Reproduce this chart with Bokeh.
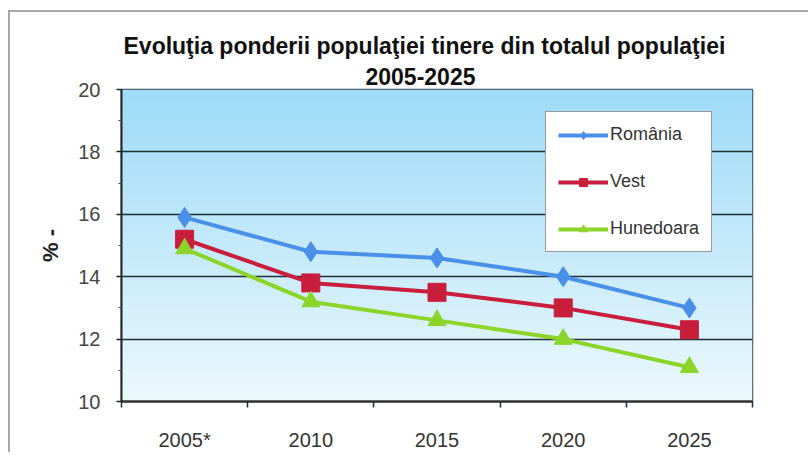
import numpy as np
from bokeh.plotting import figure
from bokeh.models import FixedTicker, Legend, LegendItem, Range1d, Title
from bokeh.embed import file_html
from bokeh.resources import INLINE

# ---- data ----
years = ["2005*", "2010", "2015", "2020", "2025"]
romania = [15.9, 14.8, 14.6, 14.0, 13.0]
vest = [15.2, 13.8, 13.5, 13.0, 12.3]
hunedoara = [14.9, 13.2, 12.6, 12.0, 11.1]
y_major = [10, 12, 14, 16, 18, 20]
y_minor = [11, 13, 15, 17, 19]
title_line1 = "Evoluţia ponderii populaţiei tinere din totalul populaţiei"
title_line2 = "2005-2025"
y_label = "% -"

FONT = "Liberation Sans"
C_RO = "#4a8fe8"
C_VE = "#c81e3c"
C_HU = "#8cd42a"
DARK = "#1f2d36"

x = list(range(1, len(years) + 1))
x_bounds = [v - 0.5 for v in x] + [x[-1] + 0.5]

p = figure(width=800, height=442, output_backend="svg", toolbar_location=None,
           x_range=Range1d(x_bounds[0], x_bounds[-1]),
           y_range=Range1d(y_major[0], y_major[-1]),
           min_border_left=111, min_border_right=58,
           min_border_top=77, min_border_bottom=53)
p.styles = {"margin-left": "8px", "margin-top": "10px",
            "border-top": "2px solid #a8a8a8", "border-left": "2px solid #a8a8a8"}
p.title.visible = False
p.background_fill_color = "#dff4fb"
p.border_fill_color = "white"
p.outline_line_color = "#3a4650"
p.outline_line_width = 1.5

# gradient background of the plot area
n = 200
t = np.linspace(0.0, 1.0, n)
top = np.array([158, 219, 248])
bot = np.array([236, 249, 253])
img = np.empty((n, 1), dtype=np.uint32)
view = img.view(dtype=np.uint8).reshape((n, 1, 4))
for k in range(3):
    view[:, 0, k] = (bot[k] + (top[k] - bot[k]) * t).astype(np.uint8)
view[:, 0, 3] = 255
p.image_rgba(image=[img], x=p.x_range.start, y=p.y_range.start,
             dw=p.x_range.end - p.x_range.start, dh=p.y_range.end - p.y_range.start,
             level="image")

# grid
p.xgrid.visible = False
p.ygrid.ticker = FixedTicker(ticks=y_major)
p.ygrid.grid_line_color = DARK
p.ygrid.grid_line_width = 1.5

# x axis: labels at category centres, ticks at boundaries
xa = p.xaxis[0]
xa.ticker = FixedTicker(ticks=x, minor_ticks=x_bounds)
xa.major_label_overrides = {v: lab for v, lab in zip(x, years)}
xa.major_tick_line_color = None
xa.major_tick_out = 0
xa.major_tick_in = 0
xa.minor_tick_line_color = DARK
xa.minor_tick_line_width = 1.5
xa.minor_tick_out = 6
xa.minor_tick_in = 0
xa.axis_line_color = "#333333"
xa.axis_line_width = 2.5
xa.major_label_standoff = 21
xa.major_label_text_font = FONT
xa.major_label_text_font_size = "20px"
xa.major_label_text_color = "#333333"

# y axis
ya = p.yaxis[0]
ya.ticker = FixedTicker(ticks=y_major, minor_ticks=y_minor)
ya.axis_line_color = "#222222"
ya.axis_line_width = 2
ya.major_tick_line_color = "#222222"
ya.major_tick_line_width = 1.5
ya.major_tick_out = 5
ya.major_tick_in = 0
ya.minor_tick_line_color = "#444444"
ya.minor_tick_out = 3
ya.minor_tick_in = 0
ya.major_label_standoff = 16
ya.major_label_text_font = FONT
ya.major_label_text_font_size = "20px"
ya.major_label_text_color = "#444444"
ya.axis_label = y_label
ya.axis_label_text_font = FONT
ya.axis_label_text_font_style = "bold"
ya.axis_label_text_font_size = "22px"
ya.axis_label_text_color = "#222222"
ya.axis_label_standoff = 12

# series
r1 = p.line(x, romania, color=C_RO, line_width=4)
m1 = p.scatter(x, romania, marker="diamond", size=20, color=C_RO)
r2 = p.line(x, vest, color=C_VE, line_width=4)
m2 = p.scatter(x, vest, marker="square", size=18, color=C_VE)
r3 = p.line(x, hunedoara, color=C_HU, line_width=4)
m3 = p.scatter(x, hunedoara, marker="triangle", size=18, color=C_HU)

legend = Legend(items=[LegendItem(label="România", renderers=[r1, m1]),
                       LegendItem(label="Vest", renderers=[r2, m2]),
                       LegendItem(label="Hunedoara", renderers=[r3, m3])],
                location=(424, 149))
legend.label_text_font = FONT
legend.label_text_font_size = "18px"
legend.label_text_color = "#333333"
legend.glyph_width = 50
legend.glyph_height = 20
legend.label_height = 20
legend.spacing = 26
legend.padding = 12
legend.margin = 0
legend.label_standoff = 2
legend.border_line_color = "#333333"
legend.border_line_width = 1.5
legend.background_fill_color = "white"
legend.background_fill_alpha = 1.0
p.add_layout(legend, "center")

# two-line title (second line closest to the plot)
p.add_layout(Title(text=title_line2, align="left", offset=244, standoff=10,
                   vertical_align="bottom", text_font=FONT, text_font_style="bold",
                   text_font_size="23px", text_color="#111111"), "above")
p.add_layout(Title(text=title_line1, align="left", offset=2, standoff=4,
                   vertical_align="bottom", text_font=FONT, text_font_style="bold",
                   text_font_size="23px", text_color="#111111"), "above")

open("out.html", "w").write(file_html(p, INLINE))
